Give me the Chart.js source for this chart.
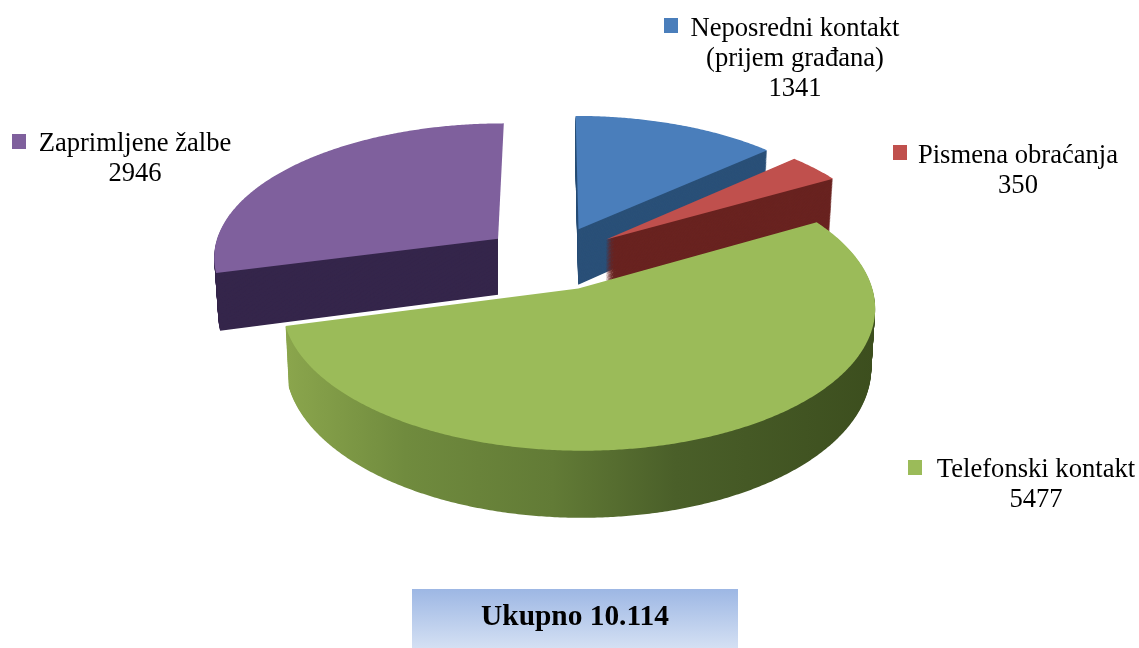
<!DOCTYPE html>
<html>
<head>
<meta charset="utf-8">
<script src="https://cdn.jsdelivr.net/npm/chart.js@4"></script>
<style>
html,body{margin:0;padding:0;background:#fff;overflow:hidden}
canvas{display:block}
</style>
</head>
<body>
<canvas id="c" width="1139" height="648"></canvas>
<script>
const categories = ["Neposredni kontakt (prijem građana)", "Pismena obraćanja", "Telefonski kontakt", "Zaprimljene žalbe"];
const values = [1341, 350, 5477, 2946];
const categoryLines = [["Neposredni kontakt", "(prijem građana)"], ["Pismena obraćanja"], ["Telefonski kontakt"], ["Zaprimljene žalbe"]];
const topColors = ["#4a7ebb", "#c0504d", "#9bbb59", "#7f609d"];
const wallColors = ["#2a5078", "#692320", null, "#35264b"];
const totalLabel = "Ukupno 10.114";

// legend placement: marker box and centre of text block / first text row
const labelPlaces = [
  {mx: 664, my: 18, cx: 795, y: 29},
  {mx: 893, my: 145, cx: 1018, y: 156},
  {mx: 908, my: 460, cx: 1036, y: 470},
  {mx: 12, my: 134, cx: 135, y: 144}
];
const drawOrder = [3, 0, 1, 2];

// camera of the tilted, exploded pie
const cam = {cx: 551.5, cy: 258, A: 286, B: 134, p: 0.123, depth: 57, shrink: 0.012, explode: 0.24};

function project(X, Y, t) {
  const w = 1 + cam.p * Y, s = 1 - cam.shrink * t;
  return [cam.cx + cam.A * X * s / w, cam.cy - cam.B * Y / w + cam.depth * t / w];
}

function recordPath(el) {
  const pts = [];
  const target = {
    arc(x, y, r, a0, a1, ccw) {
      let d = a1 - a0;
      if (ccw && d > 0) d -= Math.PI * 2;
      if (!ccw && d < 0) d += Math.PI * 2;
      const n = Math.max(1, Math.ceil(Math.abs(d) / 0.008));
      for (let i = 0; i <= n; i++) {
        const a = a0 + d * i / n;
        pts.push([x + r * Math.cos(a), y + r * Math.sin(a)]);
      }
    },
    lineTo(x, y) { pts.push([x, y]); },
    moveTo(x, y) { pts.push([x, y]); }
  };
  const fake = new Proxy(target, {
    get(t, k) { return k in t ? t[k] : () => {}; },
    set(t, k, v) { t[k] = v; return true; }
  });
  el.draw(fake);
  return pts;
}

function offsets(el) {
  const mid = (el.startAngle + el.endAngle) / 2;
  return [Math.cos(mid) * cam.explode, -Math.sin(mid) * cam.explode];
}

function fillProjected(ctx, pts, el, t, fill) {
  const R = el.outerRadius, o = offsets(el);
  ctx.beginPath();
  pts.forEach((p, i) => {
    const q = project((p[0] - el.x) / R + o[0], -(p[1] - el.y) / R + o[1], t);
    if (i) ctx.lineTo(q[0], q[1]); else ctx.moveTo(q[0], q[1]);
  });
  ctx.closePath();
  ctx.fillStyle = fill;
  ctx.fill();
}

const pie3d = {
  id: 'pie3d',
  beforeDatasetDraw(chart, args) {
    const ctx = chart.ctx, arcs = args.meta.data;
    const g = ctx.createLinearGradient(288, 0, 876, 0);
    g.addColorStop(0, '#8aa54c');
    g.addColorStop(0.2, '#708b3e');
    g.addColorStop(0.45, '#627b36');
    g.addColorStop(0.66, '#4a5f29');
    g.addColorStop(1, '#3c4e1e');
    drawOrder.forEach(i => {
      const el = arcs[i], pts = recordPath(el);
      const wall = wallColors[i] || g;
      ctx.save();
      if (i === 3) {
        // the far cut face of the left slice is turned away from the viewer
        const o = offsets(el), tip = project(o[0], o[1], 0);
        ctx.beginPath();
        ctx.rect(0, 0, tip[0], 648);
        ctx.clip();
      }
      for (let k = 70; k > 0; k--) fillProjected(ctx, pts, el, k / 70, wall);
      ctx.restore();
      fillProjected(ctx, pts, el, 0, el.options.backgroundColor);
    });
    return false;
  },
  afterDraw(chart) {
    const ctx = chart.ctx;
    ctx.save();
    ctx.textAlign = 'center';
    ctx.textBaseline = 'middle';
    ctx.font = '26.6px "Liberation Serif"';
    labelPlaces.forEach((l, i) => {
      ctx.fillStyle = topColors[i];
      ctx.fillRect(l.mx, l.my, 14, 15);
      ctx.fillStyle = '#000';
      const lines = categoryLines[i].concat(String(values[i]));
      lines.forEach((s, j) => ctx.fillText(s, l.cx, l.y + j * 30));
    });
    const b = ctx.createLinearGradient(0, 589, 0, 648);
    b.addColorStop(0, '#9db7e4');
    b.addColorStop(1, '#d4e0f3');
    ctx.fillStyle = b;
    ctx.fillRect(412, 589, 326, 59);
    ctx.fillStyle = '#000';
    ctx.font = 'bold 29.4px "Liberation Serif"';
    ctx.fillText(totalLabel, 575, 617);
    ctx.restore();
  }
};

new Chart(document.getElementById('c'), {
  type: 'pie',
  plugins: [pie3d],
  data: {
    labels: categories,
    datasets: [{data: values, backgroundColor: topColors, borderWidth: 0, offset: 0}]
  },
  options: {
    responsive: false,
    animation: false,
    plugins: {legend: {display: false}, tooltip: {enabled: false}}
  }
});
</script>
</body>
</html>
